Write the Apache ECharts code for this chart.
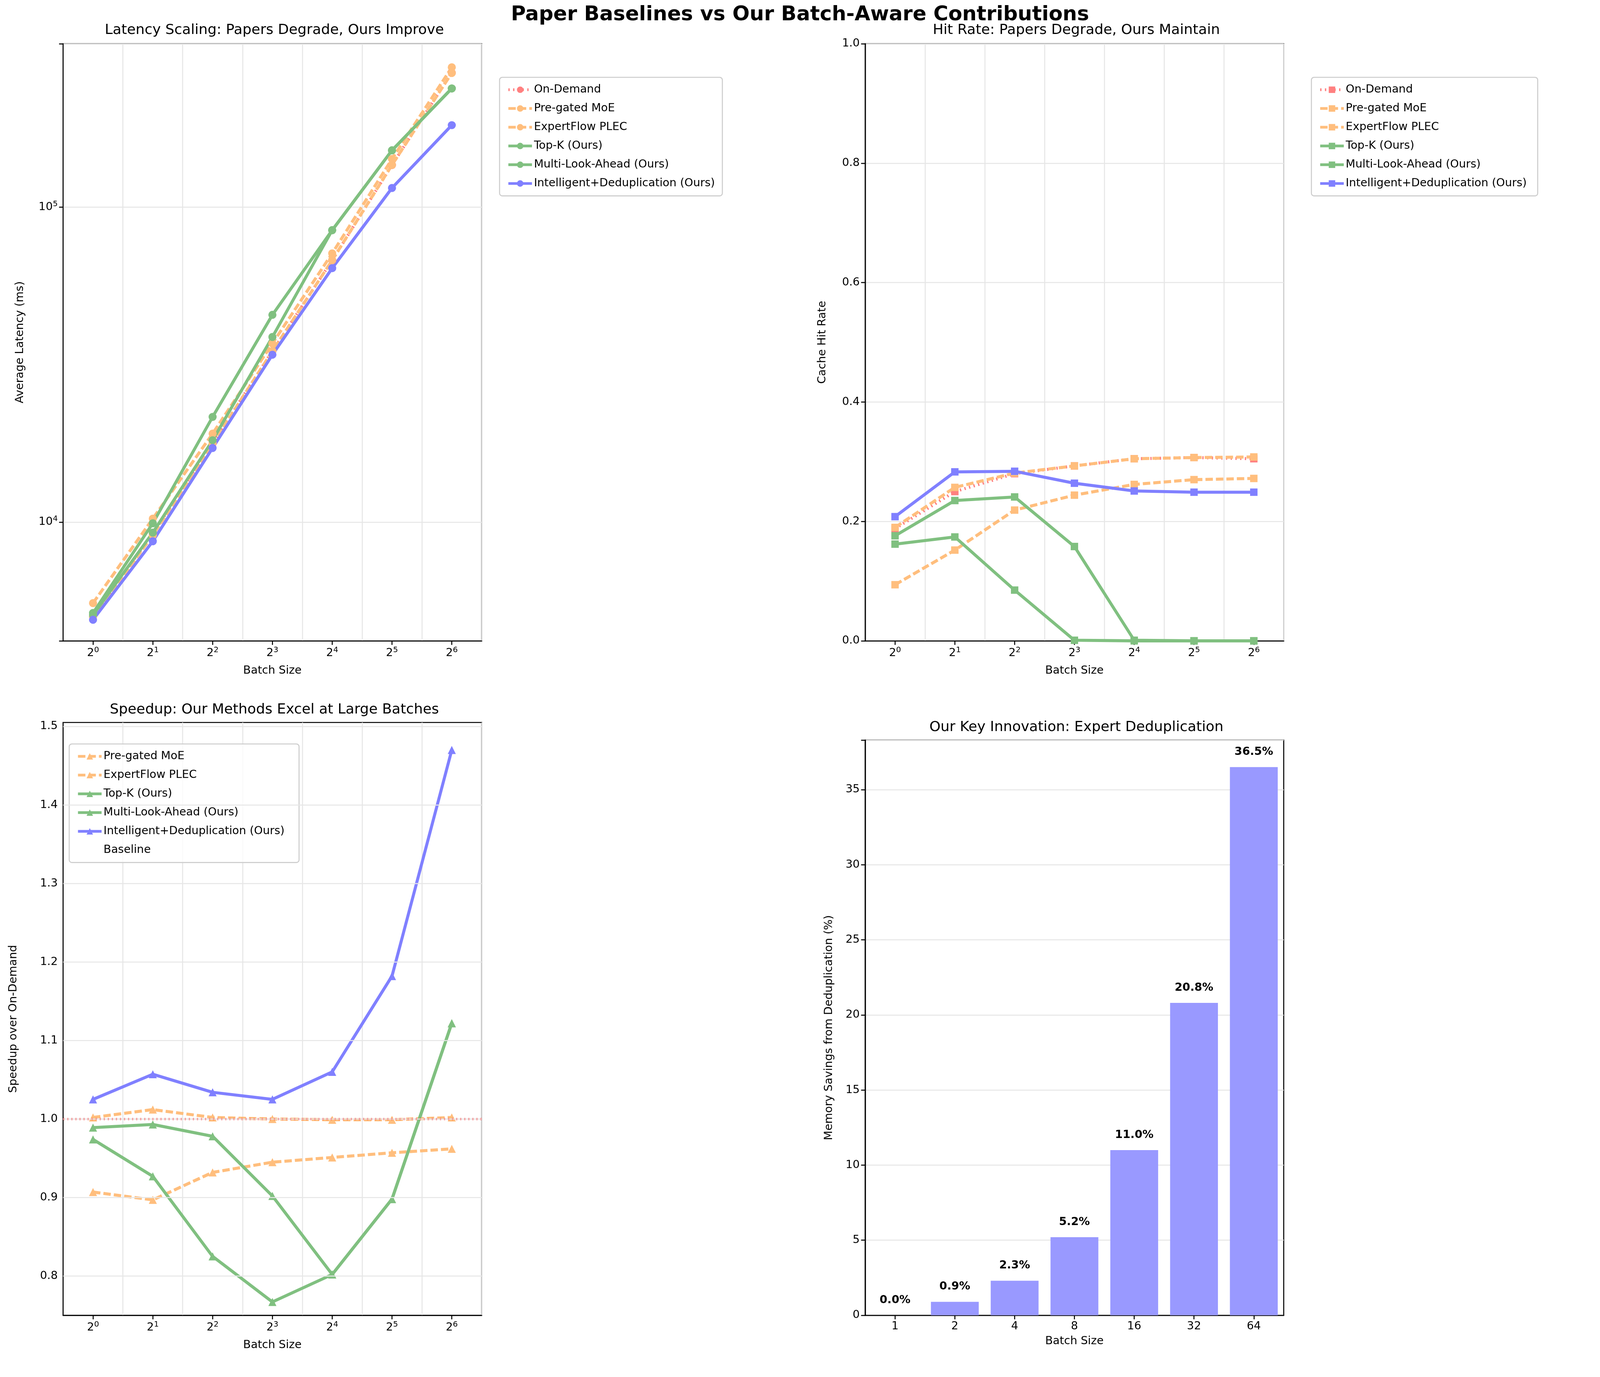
<!DOCTYPE html><html><head><meta charset="utf-8">
<script src="https://cdn.jsdelivr.net/npm/echarts@6/dist/echarts.min.js"></script>
<style>html,body{margin:0;background:#fff;overflow:hidden}#c{width:100vw;height:100vh}</style></head><body><div id="c"></div><script>
const batchExps=['0','1','2','3','4','5','6'];
const batchSizes=['1','2','4','8','16','32','64'];
const latOnDemand=[5020,9200,17800,34900,67800,136000,267000];
const latPregated=[5010,9090,17760,34900,67870,136100,266500];
const latExpertFlow=[5535,10260,19100,36900,71300,142100,277700];
const latTopK=[5075,9265,18200,38700,84500,151400,238000];
const latMulti=[5150,9920,21580,45500,84500,151400,238000];
const latIntel=[4900,8700,17200,34000,64000,115000,182000];
const hitOnDemand=[0.188,0.250,0.280,0.293,0.305,0.307,0.305];
const hitPregated=[0.190,0.257,0.281,0.293,0.305,0.307,0.308];
const hitExpertFlow=[0.094,0.152,0.219,0.244,0.262,0.270,0.272];
const hitTopK=[0.176,0.235,0.241,0.158,0.001,0.0,0.0];
const hitMulti=[0.162,0.174,0.085,0.001,0.0,0.0,0.0];
const hitIntel=[0.208,0.283,0.284,0.264,0.251,0.249,0.249];
const spPregated=[1.002,1.012,1.002,1.000,0.999,0.999,1.002];
const spExpertFlow=[0.907,0.897,0.932,0.945,0.951,0.957,0.962];
const spTopK=[0.989,0.993,0.978,0.902,0.802,0.898,1.122];
const spMulti=[0.974,0.927,0.825,0.767,0.802,0.898,1.122];
const spIntel=[1.025,1.057,1.034,1.025,1.060,1.182,1.470];
const speedTicks=[0.8,0.9,1.0,1.1,1.2,1.3,1.4,1.5];
const dedupSavings=[0.0,0.9,2.3,5.2,11.0,20.8,36.5];

const el=document.getElementById('c');
const S=el.clientWidth/4740, SY=el.clientHeight/3526;
const k=v=>v*S, ky=v=>v*SY;
const OR='#ffbe7d',GR='#80c080',BL='#8080ff',RD='#ff8080';
const F='DejaVu Sans';
const grids=[
 {left:k(187),top:ky(112),width:k(1240),height:ky(1529)},
 {left:k(2563),top:ky(112),width:k(1240),height:ky(1529)},
 {left:k(187),top:ky(1850),width:k(1240),height:ky(1518)},
 {left:k(2563),top:ky(1895),width:k(1240),height:ky(1473)}];
const axLine={show:true,lineStyle:{color:'#000',width:k(3)}};
const tick={show:true,length:k(12),lineStyle:{color:'#000',width:k(3)}};
const split={show:true,lineStyle:{color:'#e6e6e6',width:k(3)}};
const lbl={fontFamily:F,fontSize:k(33),color:'#000',margin:k(16)};
const sup={s:{fontSize:k(23),fontFamily:F,verticalAlign:'bottom',padding:[0,0,k(18),0]}};
function xAx(i,exp){return {type:'category',gridIndex:i,data:exp?batchExps:batchSizes,boundaryGap:true,
 axisLine:axLine,axisTick:{...tick,alignWithLabel:true},splitLine:exp?{...split,interval:0}:{show:false},
 name:'Batch Size',nameLocation:'middle',nameGap:k(exp?72:60),nameTextStyle:{fontFamily:F,fontSize:k(33),color:'#000'},
 axisLabel:exp?{...lbl,formatter:v=>'2{s|'+v+'}',rich:sup}:lbl};}
function yName(n,g){return {name:n,nameLocation:'middle',nameGap:k(g),nameTextStyle:{fontFamily:F,fontSize:k(33),color:'#000'}};}
const dashed=[k(22),k(9)], dotted=[k(4),k(10)];
function ln(name,x,data,color,type,sym){return {name,type:'line',xAxisIndex:x,yAxisIndex:x,data,symbol:sym,symbolSize:k(sym==='rect'?22:24),
 lineStyle:{color,width:k(9),type:type},itemStyle:{color},showSymbol:true};}
function li(name,color,type){return {name,itemStyle:{color},lineStyle:{color,width:k(8),type}};}
const legBase={orient:'vertical',itemWidth:k(70),itemHeight:k(24),itemGap:k(22),textStyle:{fontFamily:F,fontSize:k(33),color:'#000'},
 backgroundColor:'#fff',borderColor:'#ccc',borderWidth:k(3),borderRadius:k(8),padding:[k(20),k(22)]};
const names6=['On-Demand','Pre-gated MoE','ExpertFlow PLEC','Top-K (Ours)','Multi-Look-Ahead (Ours)','Intelligent+Deduplication (Ours)'];
const cols6=[RD,OR,OR,GR,GR,BL], types6=[dotted,dashed,dashed,'solid','solid','solid'];
const series=[];
names6.forEach((n,i)=>series.push(ln(n,0,[latOnDemand,latPregated,latExpertFlow,latTopK,latMulti,latIntel][i],cols6[i],types6[i],'circle')));
names6.forEach((n,i)=>series.push(ln(n+' ',1,[hitOnDemand,hitPregated,hitExpertFlow,hitTopK,hitMulti,hitIntel][i],cols6[i],types6[i],'rect')));
names6.slice(1).forEach((n,i)=>series.push(ln(n+'  ',2,[spPregated,spExpertFlow,spTopK,spMulti,spIntel][i],cols6[i+1],types6[i+1],'triangle')));
series.push(
 {name:'Baseline',type:'line',xAxisIndex:2,yAxisIndex:2,data:[],symbol:'none',lineStyle:{color:'#ff3333',width:k(6),type:[k(4),k(8)]},itemStyle:{color:'#ff3333'},
  markLine:{silent:true,symbol:'none',label:{show:false},data:[{yAxis:1.0}],lineStyle:{color:'#ff3333',width:k(6),type:[k(4),k(8)]}}},
 {type:'line',xAxisIndex:2,yAxisIndex:2,data:[],z:0,markLine:{silent:true,symbol:'none',label:{show:false},
  data:speedTicks.map(v=>({yAxis:v})),lineStyle:{color:'#e6e6e6',width:k(3),type:'solid'}}},
 {type:'bar',xAxisIndex:3,yAxisIndex:3,data:dedupSavings,barWidth:'80%',itemStyle:{color:'#9999ff'},
  label:{show:true,position:'top',distance:k(28),fontFamily:F,fontSize:k(33),fontWeight:'bold',color:'#000',formatter:p=>p.value.toFixed(1)+'%'}});
const tt=(text,x,y)=>({text,left:k(x),textAlign:'center',top:ky(y),textStyle:{fontFamily:F,fontSize:k(42),fontWeight:'normal',color:'#000'}});
const opt={animation:false,
 title:[
  {text:'Paper Baselines vs Our Batch-Aware Contributions',left:'center',top:ky(8),textStyle:{fontFamily:F,fontSize:k(60),fontWeight:'bold',color:'#000'}},
  tt('Latency Scaling: Papers Degrade, Ours Improve',807,55),
  tt('Hit Rate: Papers Degrade, Ours Maintain',3183,55),
  tt('Speedup: Our Methods Excel at Large Batches',807,1795),
  tt('Our Key Innovation: Expert Deduplication',3183,1840)],
 legend:[
  {...legBase,left:k(1480),top:ky(198),data:names6.map((n,i)=>li(n,cols6[i],types6[i]))},
  {...legBase,left:k(3885),top:ky(198),data:names6.map((n,i)=>li(n+' ',cols6[i],types6[i]))},
  {...legBase,left:k(205),top:ky(1905),backgroundColor:'rgba(255,255,255,0.8)',
   data:names6.slice(1).map((n,i)=>li(n+'  ',cols6[i+1],types6[i+1])).concat([{name:'Baseline',icon:'none',itemStyle:{opacity:0},lineStyle:{color:'#ff3333',width:k(6),type:[k(4),k(8)]}}])}],
 grid:grids.map(g=>({...g,show:true,borderColor:'#000',borderWidth:k(3),backgroundColor:'transparent'})),
 xAxis:[xAx(0,true),xAx(1,true),xAx(2,true),xAx(3,false)],
 yAxis:[
  {type:'log',gridIndex:0,logBase:10,min:4200,max:330000,axisLine:axLine,axisTick:tick,splitLine:split,
   axisLabel:{...lbl,formatter:v=>{const e=Math.round(Math.log10(v));return Math.abs(Math.log10(v)-e)<1e-6?'10{s|'+e+'}':'';},rich:sup},...yName('Average Latency (ms)',110)},
  {type:'value',gridIndex:1,min:0,max:1,interval:0.2,axisLine:axLine,axisTick:tick,splitLine:split,
   axisLabel:{...lbl,formatter:v=>v.toFixed(1)},...yName('Cache Hit Rate',110)},
  {type:'value',gridIndex:2,min:0.75,max:1.505,interval:0.05,axisLine:axLine,axisTick:{show:false},splitLine:{show:false},
   axisLabel:{...lbl,formatter:v=>{const r=Math.round(v*100);return r%10===0?(r/100).toFixed(1):'';}},...yName('Speedup over On-Demand',130)},
  {type:'value',gridIndex:3,min:0,max:38.3,interval:5,axisLine:axLine,axisTick:tick,splitLine:split,
   axisLabel:{...lbl,formatter:v=>(Math.abs(v%5)<1e-6?String(v):'')},...yName('Memory Savings from Deduplication (%)',90)}],
 series};
echarts.init(el).setOption(opt);
</script></body></html>
